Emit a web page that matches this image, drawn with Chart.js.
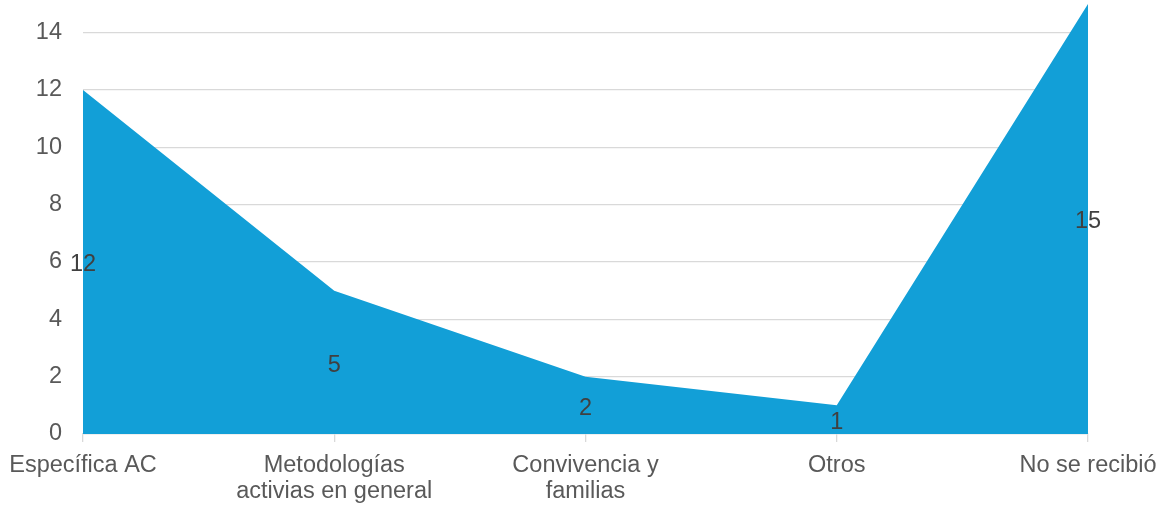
<!DOCTYPE html>
<html>
<head>
<meta charset="utf-8">
<script src="https://cdn.jsdelivr.net/npm/chart.js@4"></script>
<style>
  html, body { margin: 0; padding: 0; background: #ffffff; }
  #wrap { width: 1161px; height: 505px; }
</style>
</head>
<body>
<div id="wrap"><canvas id="chart" width="1161" height="505"></canvas></div>
<script>
const categories = [
  "Específica AC",
  ["Metodologías", "activias en general"],
  ["Convivencia y", "familias"],
  "Otros",
  "No se recibió"
];
const values = [12, 5, 2, 1, 15];
const yTicks = [0, 2, 4, 6, 8, 10, 12, 14];

const FONT = "'Liberation Sans', Arial, sans-serif";
const FILL = "#129fd7";

// Value labels drawn at half the height of each point
const midLabels = {
  id: "midLabels",
  afterDatasetsDraw(chart) {
    const { ctx, scales } = chart;
    const data = chart.data.datasets[0].data;
    ctx.save();
    ctx.font = "23.5px " + FONT;
    ctx.fillStyle = "#404040";
    ctx.textAlign = "center";
    ctx.textBaseline = "middle";
    data.forEach((v, i) => {
      const x = scales.x.getPixelForValue(i);
      const y = scales.y.getPixelForValue(v / 2) + 3;
      ctx.fillText(String(v), x, y);
    });
    ctx.restore();
  }
};

new Chart(document.getElementById("chart"), {
  type: "line",
  data: {
    labels: categories,
    datasets: [{
      data: values,
      fill: "origin",
      backgroundColor: FILL,
      borderWidth: 0,
      borderColor: FILL,
      pointRadius: 0,
      tension: 0
    }]
  },
  options: {
    responsive: false,
    animation: false,
    layout: { padding: { top: 4, right: 73, left: 0, bottom: 0 } },
    plugins: { legend: { display: false }, tooltip: { enabled: false } },
    scales: {
      x: {
        offset: false,
        border: { display: true, color: "#d9d9d9", width: 1.3 },
        grid: { drawOnChartArea: false, drawTicks: true, tickLength: 8, color: "#d9d9d9", lineWidth: 1.3 },
        ticks: {
          color: "#595959",
          font: { family: FONT, size: 23.5, lineHeight: 1.1 },
          padding: 11,
          maxRotation: 0,
          autoSkip: false
        },
        afterFit(scale) {
          scale.height = 71;
          scale.paddingLeft = 0;
          scale.paddingRight = 0;
        }
      },
      y: {
        min: 0,
        max: 15,
        border: { display: false },
        grid: { color: "#d9d9d9", lineWidth: 1.3, drawTicks: false },
        afterBuildTicks(scale) { scale.ticks = yTicks.map(v => ({ value: v })); },
        ticks: {
          color: "#595959",
          font: { family: FONT, size: 23.5 },
          padding: 21
        },
        afterFit(scale) {
          scale.width = 83;
          scale.paddingTop = 0;
          scale.paddingBottom = 0;
        }
      }
    }
  },
  plugins: [midLabels]
});
</script>
</body>
</html>
